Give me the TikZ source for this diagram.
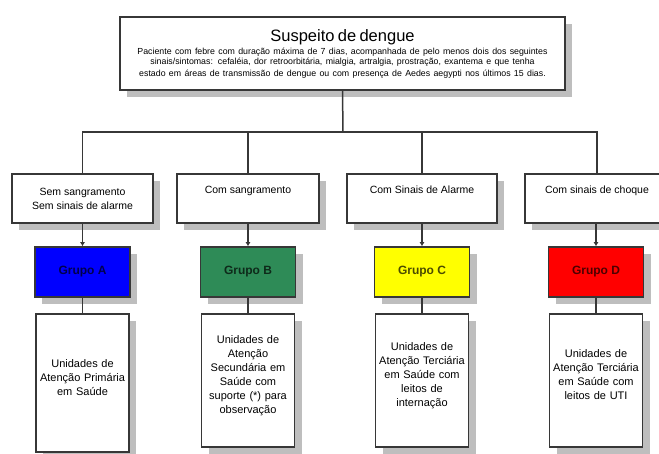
\documentclass[tikz,border=0pt]{standalone}
\usepackage{fontspec}
\setmainfont{Liberation Sans}
\usetikzlibrary{shadows,arrows.meta}

\definecolor{borda}{RGB}{55,55,55}
\definecolor{sombra}{RGB}{190,190,190}
\definecolor{azulA}{RGB}{0,0,255}
\definecolor{verdeB}{RGB}{46,139,87}
\definecolor{amareloC}{RGB}{255,255,0}
\definecolor{vermelhoD}{RGB}{255,0,0}

\tikzset{
  caixa/.style={draw=borda, line width=1.5pt, fill=white, inner sep=2pt,
    drop shadow={shadow xshift=7pt, shadow yshift=-7pt, fill=sombra, opacity=1}},
  classe/.style={caixa, minimum height=49pt, align=center,
    font=\fontsize{10.5}{14}\selectfont},
  grupo/.style={caixa, fill=#1, text=#1!30!black, minimum width=95pt,
    minimum height=50pt, font=\fontsize{12}{14}\selectfont\bfseries},
  unidade/.style={caixa, minimum width=93pt, text width=93pt, inner xsep=0pt, align=center,
    font=\fontsize{11}{14}\selectfont, execute at end node={\\[-3pt]\mbox{}}},
  linha/.style={draw=borda, line width=1.5pt},
  seta/.style={linha, -{Latex[length=4pt,width=5pt]}}
}

\begin{document}
\begin{tikzpicture}[x=1pt,y=-1pt]
\useasboundingbox (0,0) rectangle (659,454);
% caso suspeito
\node[caixa, minimum width=445pt, minimum height=73pt, text width=440pt, align=center] (susp) at (342.5,53.5)
  {{\fontsize{16.5}{18}\selectfont Suspeito de dengue}\\[3pt]
   {\fontsize{8.8}{10}\selectfont Paciente com febre com duração máxima de 7 dias, acompanhada de pelo menos dois dos seguintes\\
   sinais/sintomas: cefaléia, dor retroorbitária, mialgia, artralgia, prostração, exantema e que tenha\\
   estado em áreas de transmissão de dengue ou com presença de Aedes aegypti nos últimos 15 dias.}};
\coordinate (jn) at (343,132);

% classificacao
\node[classe, minimum width=141pt] (sem) at (82.5,198.5) {Sem sangramento\\Sem sinais de alarme};
\node[classe, minimum width=142pt] (csang) at (248,198.5) {Com sangramento\\\strut};
\node[classe, minimum width=150pt] (alarm) at (422,198.5) {Com Sinais de Alarme\\\strut};
\node[classe, minimum width=144pt] (choq) at (597,198.5) {Com sinais de choque\\\strut};

% grupos
\node[grupo=azulA] (grA) at (82.5,272) {Grupo A};
\node[grupo=verdeB] (grB) at (248,272) {Grupo B};
\node[grupo=amareloC] (grC) at (422,272) {Grupo C};
\node[grupo=vermelhoD] (grD) at (596,272) {Grupo D};

% unidades de atencao
\node[unidade, minimum height=138pt] (uniA) at (82.5,383) {Unidades de\\Atenção Primária\\em Saúde};
\node[unidade, minimum height=133pt] (uniB) at (248,380.5) {Unidades de\\Atenção\\Secundária  em\\Saúde com\\suporte (*) para\\observação};
\node[unidade, minimum height=133pt] (uniC) at (422,380.5) {Unidades de\\Atenção Terciária\\em Saúde com\\leitos de\\internação};
\node[unidade, minimum height=133pt] (uniD) at (596,380.5) {Unidades de\\Atenção Terciária\\em Saúde com\\leitos de UTI};

% conectores
\draw[linha] (susp.south) -- (jn);
\foreach \n in {sem,csang,alarm,choq}
  \draw[linha] (jn) -| (\n.north);
\draw[seta] (sem) -- (grA);
\draw[seta] (csang) -- (grB);
\draw[seta] (alarm) -- (grC);
\draw[seta] (choq.south -| grD) -- (grD);
\draw[linha] (grA) -- (uniA);
\draw[linha] (grB) -- (uniB);
\draw[linha] (grC) -- (uniC);
\draw[linha] (grD) -- (uniD);
\end{tikzpicture}
\end{document}
